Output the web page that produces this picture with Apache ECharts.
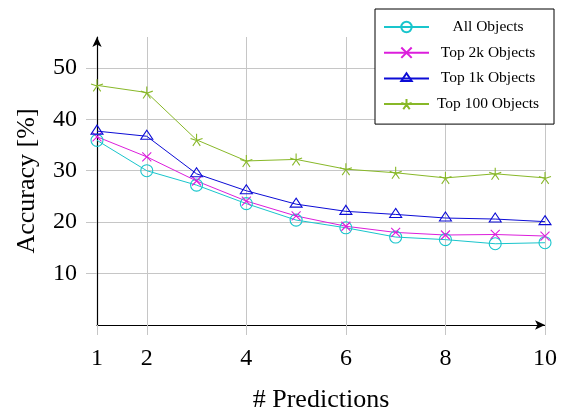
<!DOCTYPE html>
<html>
<head>
<meta charset="utf-8">
<script src="https://cdn.jsdelivr.net/npm/echarts@6/dist/echarts.min.js"></script>
<style>
  html, body { margin: 0; padding: 0; background: #fff; }
  #chart { width: 564px; height: 412px; }
</style>
</head>
<body>
<div id="chart"></div>
<script>
// values
const predictions = [1, 2, 3, 4, 5, 6, 7, 8, 9, 10];
const allObjects = [35.9, 30.0, 27.2, 23.6, 20.4, 18.9, 17.1, 16.6, 15.8, 16.0];
const top2kObjects = [36.6, 32.7, 28.0, 24.1, 21.2, 19.2, 18.0, 17.5, 17.6, 17.3];
const top1kObjects = [37.7, 36.7, 29.4, 26.1, 23.5, 22.1, 21.5, 20.8, 20.6, 20.1];
const top100Objects = [46.6, 45.2, 36.0, 31.9, 32.2, 30.3, 29.6, 28.6, 29.4, 28.6];

const xTicks = [1, 2, 4, 6, 8, 10];
const yTicks = [10, 20, 30, 40, 50];

const font = '"Liberation Serif", "DejaVu Serif", serif';
const gridGray = '#c6c6c6';

const marks = {
  circle: 'circle',
  cross: 'path://M-50,-50L50,50M50,-50L-50,50',
  triangle: 'path://M0,-100L86.6,50L-86.6,50ZM0,100',
  star: 'path://M0,0L0,-100M0,0L95.1,-30.9M0,0L58.8,80.9M0,0L-58.8,80.9M0,0L-95.1,-30.9',
};

function pairs(ys) {
  return ys.map((y, i) => [predictions[i], y]);
}

function lineSeries(name, ys, color, symbol, size) {
  return {
    name: name,
    type: 'line',
    data: pairs(ys),
    symbol: symbol,
    symbolSize: size,
    showAllSymbol: true,
    z: 3,
    lineStyle: { color: color, width: 1 },
    itemStyle: { color: 'none', borderColor: color, borderWidth: 1.1, opacity: 1 },
    emphasis: { disabled: true },
    animation: false,
  };
}

const chart = echarts.init(document.getElementById('chart'));
chart.setOption({
  backgroundColor: '#fff',
  animation: false,
  grid: { left: 97, right: 19, top: 37, bottom: 87, outerBoundsMode: 'none' },
  legend: {
    left: 375,
    top: 9,
    orient: 'vertical',
    backgroundColor: '#fff',
    borderColor: '#000',
    borderWidth: 1,
    borderRadius: 0,
    padding: [10, 12, 12, 8],
    itemWidth: 45,
    itemHeight: 13,
    itemGap: 9.7,
    formatter: name => `{c|${name}}`,
    textStyle: {
      rich: {
        c: { width: 108, align: 'center', lineHeight: 16, fontFamily: font, fontSize: 15.5, color: '#000' },
      },
    },
    data: ['All Objects', 'Top 2k Objects', 'Top 1k Objects', 'Top 100 Objects'],
  },
  xAxis: {
    type: 'value',
    min: 1,
    max: 10,
    name: '# Predictions',
    nameLocation: 'middle',
    nameGap: 62,
    nameTextStyle: { fontFamily: font, fontSize: 26, color: '#000' },
    axisLine: { show: true, symbol: ['none', 'arrow'], symbolSize: [7, 10], lineStyle: { color: '#000', width: 1.2 } },
    axisTick: { show: true, inside: false, length: 10, customValues: xTicks, lineStyle: { color: gridGray } },
    axisLabel: { customValues: xTicks, margin: 22, fontFamily: font, fontSize: 24, color: '#000' },
    splitLine: { show: true, customValues: xTicks, lineStyle: { color: gridGray, width: 1 } },
  },
  yAxis: {
    type: 'value',
    min: 0,
    max: 56,
    name: 'Accuracy [%]',
    nameLocation: 'middle',
    nameGap: 57,
    nameTextStyle: { fontFamily: font, fontSize: 26, color: '#000' },
    axisLine: { show: true, symbol: ['none', 'arrow'], symbolSize: [7, 10], lineStyle: { color: '#000', width: 1.2 } },
    axisTick: { show: true, inside: false, length: 11, customValues: yTicks, lineStyle: { color: gridGray } },
    axisLabel: { customValues: yTicks, margin: 20, fontFamily: font, fontSize: 24, color: '#000' },
    splitLine: { show: true, customValues: yTicks, lineStyle: { color: gridGray, width: 1 } },
  },
  series: [
    lineSeries('All Objects', allObjects, '#19c5cc', marks.circle, 12),
    lineSeries('Top 2k Objects', top2kObjects, '#dc1edc', marks.cross, 9),
    lineSeries('Top 1k Objects', top1kObjects, '#0c0cd6', marks.triangle, 12),
    lineSeries('Top 100 Objects', top100Objects, '#88b828', marks.star, 12),
  ],
});

window.addEventListener('resize', () => chart.resize());
</script>
</body>
</html>
